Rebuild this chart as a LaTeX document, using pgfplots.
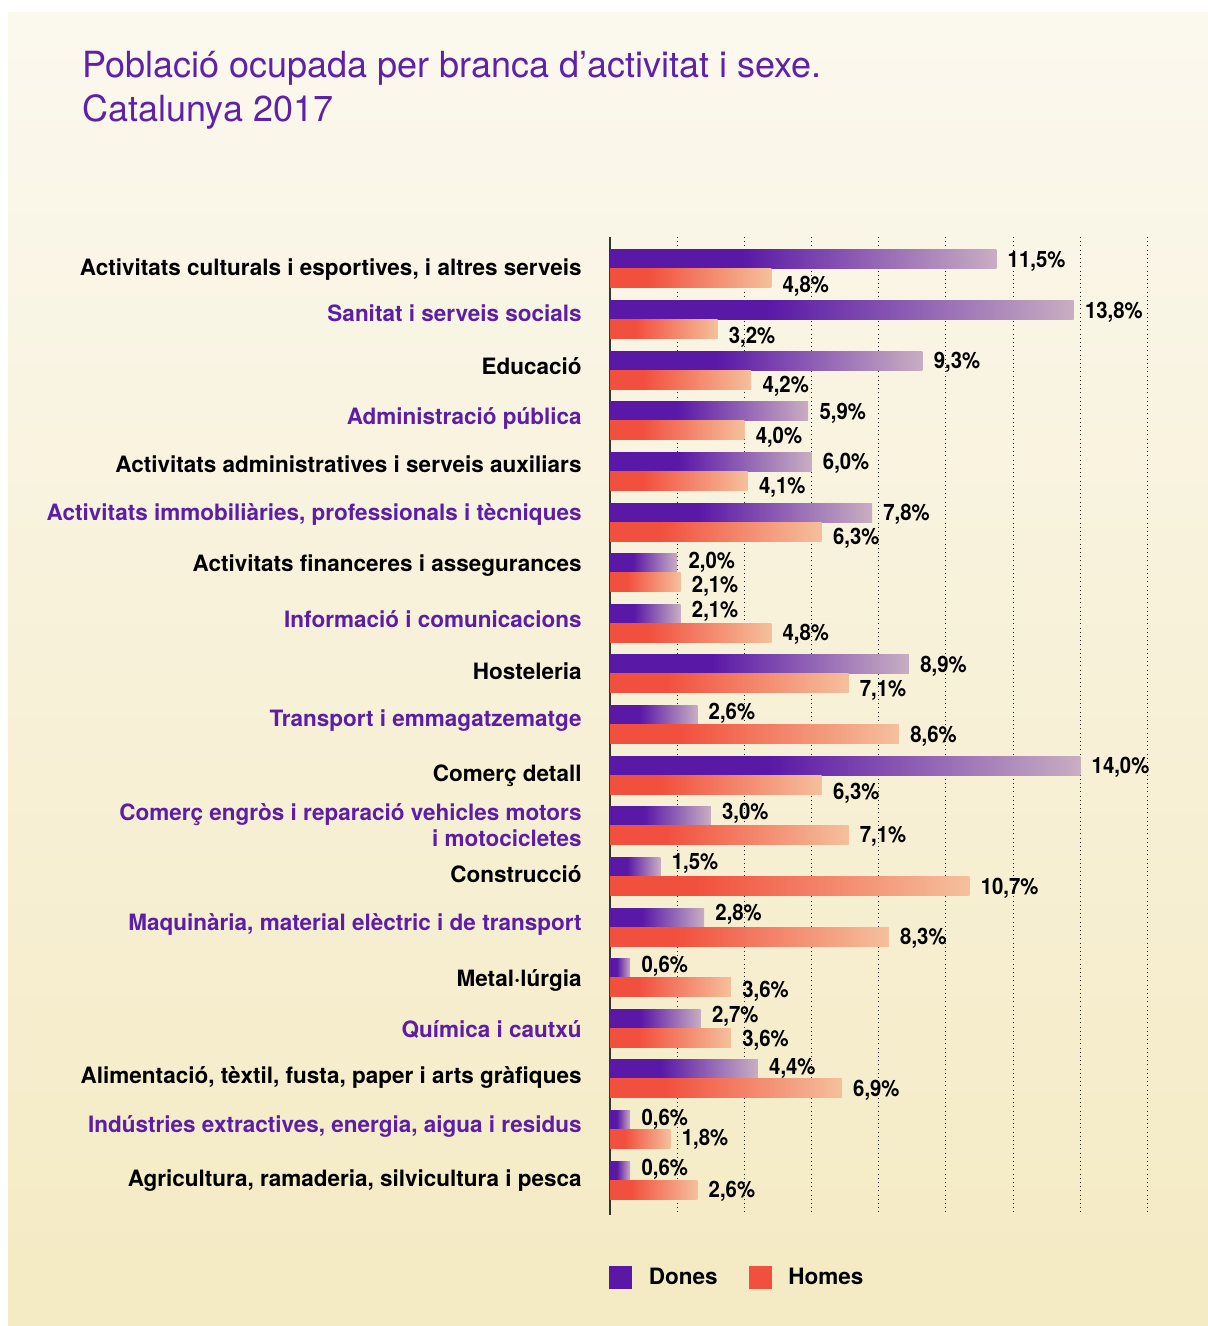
\documentclass[border=0pt]{standalone}
\usepackage{fontspec}
\setmainfont{TeX Gyre Heros}
\newfontfamily\valfont[FakeStretch=0.9]{TeX Gyre Heros}
\usepackage{pgfplots}
\usepackage{pgfplotstable}
\pgfplotsset{compat=1.18}

\definecolor{dpurple}{HTML}{5A18A7}
\definecolor{dlight}{HTML}{C8AEC2}
\definecolor{hred}{HTML}{F2503E}
\definecolor{hlight}{HTML}{F5C09C}
\definecolor{lpurple}{HTML}{5C1EA6}
\definecolor{tpurple}{HTML}{5E22A8}
\definecolor{bgtop}{HTML}{FBF8EE}
\definecolor{bgbot}{HTML}{F4EAC3}

\pgfdeclarehorizontalshading{doneshade}{100bp}{color(0bp)=(dpurple); color(25bp)=(dpurple); color(42bp)=(dpurple); color(75bp)=(dlight); color(100bp)=(dlight)}
\pgfdeclarehorizontalshading{homeshade}{100bp}{color(0bp)=(hred); color(25bp)=(hred); color(37bp)=(hred); color(75bp)=(hlight); color(100bp)=(hlight)}

\pgfplotstableread{
y x dy
-0.1877 11.5 0
0.8123 13.8 0
1.8123 9.3 0
2.8123 5.9 0
3.8123 6.0 0
4.8123 7.8 0
5.8123 2.0 1.5
6.8123 2.1 2
7.8123 8.9 0
8.8123 2.6 2
9.8123 14.0 0
10.8123 3.0 2.25
11.8123 1.5 2.75
12.8123 2.8 2.5
13.8123 0.6 2
14.8123 2.7 2
15.8123 4.4 1.5
16.8123 0.6 1
17.8123 0.6 1.5
}\dones

\pgfplotstableread{
y x dy
0.1877 4.8 -3
1.1877 3.2 -3
2.1877 4.2 -2.5
3.1877 4.0 -2.5
4.1877 4.1 -2.5
5.1877 6.3 -2.5
6.1877 2.1 -1
7.1877 4.8 0
8.1877 7.1 -2.5
9.1877 8.6 0
10.1877 6.3 -3.25
11.1877 7.1 0.5
12.1877 10.7 -0.5
13.1877 8.3 0
14.1877 3.6 -1
15.1877 3.6 -0.5
16.1877 6.9 0
17.1877 1.8 0.5
18.1877 2.6 0
}\homes

\begin{document}
\begin{tikzpicture}
\useasboundingbox (0,0) rectangle (604pt,663pt);
\fill[white] (0,0) rectangle (604pt,663pt);
\shade[top color=bgtop, bottom color=bgbot] (4pt,0) rectangle (604pt,656.5pt);

\node[anchor=base west, inner sep=0pt, text=tpurple, font=\fontsize{18}{20}\selectfont] at (41pt,624pt) {Població ocupada per branca d’activitat i sexe.};
\node[anchor=base west, inner sep=0pt, text=tpurple, font=\fontsize{18}{20}\selectfont] at (41pt,602pt) {Catalunya 2017};

\begin{axis}[
  at={(305pt,55.5pt)}, anchor=south west,
  scale only axis, width=268.75pt, height=489pt,
  xmin=0, xmax=16, ymin=-0.632, ymax=18.69, y dir=reverse,
  axis lines=left,
  x axis line style={draw=none},
  y axis line style={-, line width=0.8pt, color=black!80},
  xtick={2,4,...,16}, xticklabels={},
  xmajorgrids,
  grid style={black!85, line width=0.5pt, dash pattern=on 0.5pt off 1.6pt},
  major tick length=0pt,
  ytick={0.119,1.047,2.094,3.082,4.011,4.960,5.968,7.074,8.101,9.030,10.117,10.888,11.402,12.112,13.061,14.167,15.175,16.084,17.052,18.119},
  yticklabels={
    {\textcolor{black}{Activitats culturals i esportives, i altres serveis}},
    {\textcolor{lpurple}{Sanitat i serveis socials}},
    {\textcolor{black}{Educació}},
    {\textcolor{lpurple}{Administració pública}},
    {\textcolor{black}{Activitats administratives i serveis auxiliars}},
    {\textcolor{lpurple}{Activitats immobiliàries, professionals i tècniques}},
    {\textcolor{black}{Activitats financeres i assegurances}},
    {\textcolor{lpurple}{Informació i comunicacions}},
    {\textcolor{black}{Hosteleria}},
    {\textcolor{lpurple}{Transport i emmagatzematge}},
    {\textcolor{black}{Comerç detall}},
    {\textcolor{lpurple}{Comerç engròs i reparació vehicles motors}},
    {\textcolor{lpurple}{i motocicletes}},
    {\textcolor{black}{Construcció}},
    {\textcolor{lpurple}{Maquinària, material elèctric i de transport}},
    {\textcolor{black}{Metal·lúrgia}},
    {\textcolor{lpurple}{Química i cautxú}},
    {\textcolor{black}{Alimentació, tèxtil, fusta, paper i arts gràfiques}},
    {\textcolor{lpurple}{Indústries extractives, energia, aigua i residus}},
    {\textcolor{black}{Agricultura, ramaderia, silvicultura i pesca}}
  },
  yticklabel style={font=\bfseries\fontsize{11.25}{13.5}\selectfont, anchor=base east, inner sep=0pt, xshift=-14pt},
  xbar, bar width=9.5pt, bar shift=0pt,
  clip=false,
  point meta=x,
  visualization depends on={\thisrow{dy} \as \labdy},
  nodes near coords={\pgfmathprintnumber[assume math mode=true, use comma, fixed, fixed zerofill, precision=1]{\pgfplotspointmeta}\%},
  nodes near coords style={font=\valfont\bfseries\fontsize{11.3}{13}\selectfont, text=black, anchor=base west, inner sep=0pt, xshift=5.5pt, yshift=\labdy pt-4pt},
  legend style={at={(0,0)}, anchor=north west, xshift=-0.5pt, yshift=-25.5pt,
    draw=none, fill=none, inner sep=0pt, outer sep=0pt,
    font=\bfseries\fontsize{11.25}{13.5}\selectfont,
    nodes={inner sep=0pt},
    /tikz/every odd column/.append style={column sep=8.5pt},
    /tikz/every even column/.append style={column sep=15.5pt}},
  legend columns=2,
]
\pgfplotsinvokeforeach{0,...,18}{
  \addplot[draw=none, shade, shading=doneshade, forget plot, restrict expr to domain={\coordindex}{#1:#1}] table[x=x, y=y] {\dones};
  \addplot[draw=none, shade, shading=homeshade, forget plot, restrict expr to domain={\coordindex}{#1:#1}] table[x=x, y=y] {\homes};
}
\addlegendimage{legend image code/.code={\fill[dpurple] (0pt,-5.5pt) rectangle (11pt,5.5pt);}}
\addlegendentry{Dones}
\addlegendimage{legend image code/.code={\fill[hred] (0pt,-5.5pt) rectangle (11pt,5.5pt);}}
\addlegendentry{Homes}
\end{axis}
\end{tikzpicture}
\end{document}
